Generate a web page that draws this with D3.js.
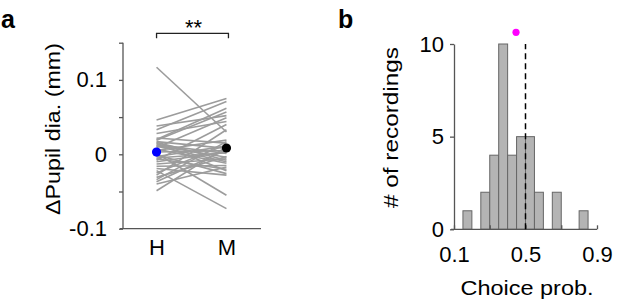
<!DOCTYPE html>
<html>
<head>
<meta charset="utf-8">
<script src="https://cdn.jsdelivr.net/npm/d3@7"></script>
<style>
  body { margin: 0; background: #fff; }
  svg { display: block; font-family: "Liberation Sans", Arial, sans-serif; }
  .axis path, .axis line { stroke: #555; stroke-width: 1.3; }
  .axis text { fill: #000; font-size: 22px; font-family: "Liberation Sans", Arial, sans-serif; }
</style>
</head>
<body>
<div id="chart"></div>
<script>
/**
 * DATA
 * */
// panel a: pupil change per recording, hit vs miss
const conditions = ["H", "M"];
const pupilH = [0.117, 0.046, 0.038, 0.033, 0.028, 0.022, 0.019, 0.017, 0.015, 0.013, 0.011, 0.009,
  0.007, 0.005, 0.003, 0.001, -0.001, -0.003, -0.006, -0.008, -0.010, -0.013, -0.016, -0.019,
  -0.022, -0.025, -0.028, -0.031, -0.034, -0.037, -0.040, -0.049, 0.020, 0.016, 0.012, -0.005];
const pupilM = [0.030, 0.075, 0.052, 0.071, 0.044, 0.015, 0.057, 0.008, -0.022, 0.001, -0.010, 0.049,
  -0.012, 0.019, 0.005, -0.055, -0.026, 0.011, -0.020, 0.040, 0.003, -0.006, -0.015, -0.028,
  -0.073, 0.013, 0.033, -0.003, 0.017, 0.006, -0.017, 0.010, 0.062, -0.008, -0.004, 0.002];
const meanPupil = [0.003, 0.0085];
const pupilTicks = [-0.1, -0.05, 0, 0.05, 0.1, 0.15];
const pupilTickLabels = { "-0.1": "-0.1", "0": "0", "0.1": "0.1" };

// panel b: choice probability histogram
const binEdges = [0.10, 0.15, 0.20, 0.25, 0.30, 0.35, 0.40, 0.45, 0.50, 0.55, 0.60, 0.65, 0.70, 0.75, 0.80, 0.85, 0.90];
const binCounts = [0, 1, 0, 2, 4, 10, 4, 5, 5, 2, 0, 2, 0, 0, 1, 0];
const cpMean = 0.447;
const cpMeanMarkerY = 10.63;
const chanceLevel = 0.5;
const cpTicks = [0.1, 0.3, 0.5, 0.7, 0.9];
const cpTickLabels = { "0.1": "0.1", "0.5": "0.5", "0.9": "0.9" };
const countTicks = [0, 5, 10];

const width = 617, height = 307;

const svg = d3.select("#chart").append("svg")
  .attr("width", width)
  .attr("height", height);

/**
 * PANEL A
 * */
const yA = d3.scaleLinear().domain([-0.1, 0.15]).range([228.7, 42.7]);
const xA = d3.scalePoint().domain(conditions).range([123, 260]).padding(0.48);

const gA = svg.append("g");

// y axis
gA.append("g")
  .attr("class", "axis")
  .attr("transform", "translate(123,0)")
  .call(d3.axisLeft(yA).tickValues(pupilTicks).tickSize(4).tickPadding(12)
    .tickFormat(d => pupilTickLabels[String(d)] || ""))
  .call(g => g.select(".domain").attr("d", `M-0,${yA(0.15)}V${yA(-0.1)}`));

// x axis (no ticks)
gA.append("g")
  .attr("class", "axis")
  .attr("transform", `translate(0,${yA(-0.1)})`)
  .call(d3.axisBottom(xA).tickSize(0).tickPadding(11))
  .call(g => g.select(".domain").attr("d", "M120,0H261"))
  .call(g => g.selectAll(".tick text").attr("fill", d => d === "H" ? "#0000ff" : "#000"));

// per-recording lines
gA.append("g")
  .selectAll("line")
  .data(pupilH.map((h, i) => [h, pupilM[i]]))
  .join("line")
  .attr("x1", xA("H"))
  .attr("x2", xA("M"))
  .attr("y1", d => yA(d[0]))
  .attr("y2", d => yA(d[1]))
  .attr("stroke", "#9c9c9c")
  .attr("stroke-width", 1.6);

// mean dots
gA.selectAll("circle.mean")
  .data(conditions)
  .join("circle")
  .attr("class", "mean")
  .attr("cx", d => xA(d))
  .attr("cy", (d, i) => yA(meanPupil[i]))
  .attr("r", 4.6)
  .attr("fill", d => d === "H" ? "#0000ff" : "#000");

// significance bracket
const bracketY = 33.3;
gA.append("path")
  .attr("d", `M${xA("H")},${bracketY + 5}V${bracketY}H${xA("M") + 2}V${bracketY + 5}`)
  .attr("fill", "none")
  .attr("stroke", "#222")
  .attr("stroke-width", 1.3);
gA.append("text")
  .attr("x", (xA("H") + xA("M")) / 2 + 2)
  .attr("y", 35)
  .attr("text-anchor", "middle")
  .attr("font-size", 22)
  .text("**");

// y label
gA.append("text")
  .attr("transform", "translate(60,129) rotate(-90)")
  .attr("text-anchor", "middle")
  .attr("font-size", 21)
  .attr("textLength", 172)
  .attr("lengthAdjust", "spacingAndGlyphs")
  .text("ΔPupil dia. (mm)");

// panel letter
svg.append("text")
  .attr("x", 1)
  .attr("y", 28)
  .attr("font-size", 25)
  .attr("font-weight", "bold")
  .text("a");

/**
 * PANEL B
 * */
const xB = d3.scaleLinear().domain([0.1, 0.9]).range([454, 597]);
const yB = d3.scaleLinear().domain([0, 10]).range([229.3, 44]);

const gB = svg.append("g");

const bins = binCounts.map((c, i) => ({ x0: binEdges[i], x1: binEdges[i + 1], count: c }))
  .filter(d => d.count > 0);

gB.selectAll("rect.bar")
  .data(bins)
  .join("rect")
  .attr("class", "bar")
  .attr("x", d => xB(d.x0))
  .attr("width", d => xB(d.x1) - xB(d.x0))
  .attr("y", d => yB(d.count))
  .attr("height", d => yB(0) - yB(d.count))
  .attr("fill", "#b4b4b4")
  .attr("stroke", "#666")
  .attr("stroke-width", 1);

// x axis, ticks pointing inward
gB.append("g")
  .attr("class", "axis")
  .attr("transform", `translate(0,${yB(0)})`)
  .call(d3.axisBottom(xB).tickValues(cpTicks).tickSizeInner(-4).tickSizeOuter(0).tickPadding(17)
    .tickFormat(d => cpTickLabels[String(d)] || ""))
  .call(g => g.select(".domain").attr("d", `M${xB(0.1) - 3},0H${xB(0.9)}`));

// y axis
gB.append("g")
  .attr("class", "axis")
  .attr("transform", `translate(${xB(0.1)},0)`)
  .call(d3.axisLeft(yB).tickValues(countTicks).tickSizeInner(4).tickSizeOuter(0).tickPadding(6));

// chance line
gB.append("line")
  .attr("x1", xB(chanceLevel))
  .attr("x2", xB(chanceLevel))
  .attr("y1", yB(0))
  .attr("y2", yB(10))
  .attr("stroke", "#000")
  .attr("stroke-width", 1.5)
  .attr("stroke-dasharray", "6,4");

// mean marker
gB.append("circle")
  .attr("cx", xB(cpMean))
  .attr("cy", yB(cpMeanMarkerY))
  .attr("r", 3.6)
  .attr("fill", "#ff00ff");

// axis labels
gB.append("text")
  .attr("x", 527)
  .attr("y", 295)
  .attr("text-anchor", "middle")
  .attr("font-size", 21)
  .attr("textLength", 133)
  .attr("lengthAdjust", "spacingAndGlyphs")
  .text("Choice prob.");

gB.append("text")
  .attr("transform", "translate(398,127.5) rotate(-90)")
  .attr("text-anchor", "middle")
  .attr("font-size", 21)
  .attr("textLength", 161)
  .attr("lengthAdjust", "spacingAndGlyphs")
  .text("# of recordings");

svg.append("text")
  .attr("x", 338)
  .attr("y", 28)
  .attr("font-size", 25)
  .attr("font-weight", "bold")
  .text("b");
</script>
</body>
</html>
